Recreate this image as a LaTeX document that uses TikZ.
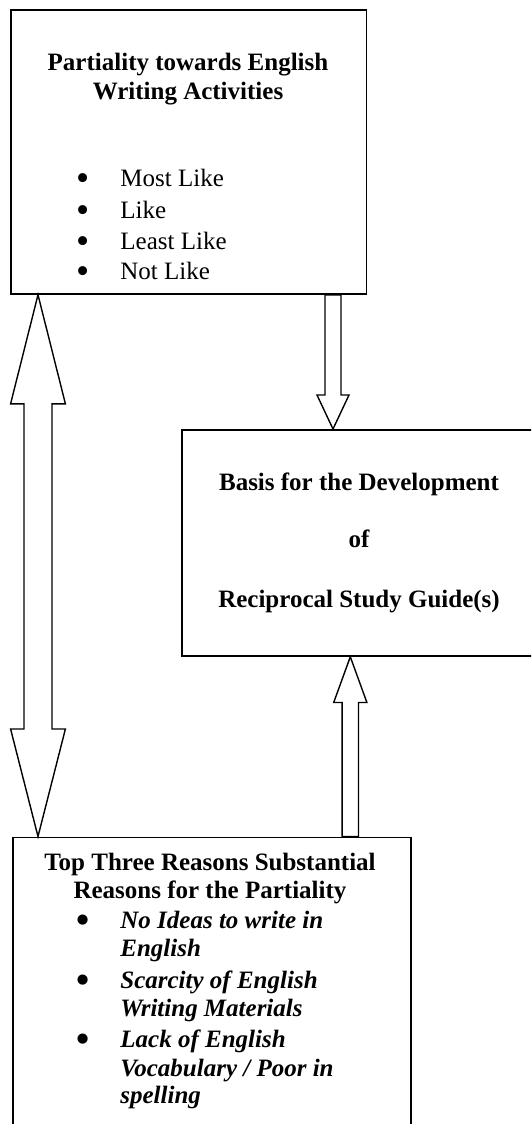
\documentclass[tikz,border=0pt]{standalone}
\usepackage{fontspec}
\setmainfont{Liberation Serif}
\usepackage{tikz}
\usetikzlibrary{positioning,calc}

\tikzset{
    box/.style={draw, line width=0.9pt, anchor=north west, inner sep=0pt},
    blockarrow/.style={draw, line width=0.7pt},
    txt/.style={inner sep=0pt, font=\fontsize{12.5}{15}\selectfont},
    title/.style={txt, font=\fontsize{12.5}{15}\selectfont\bfseries, anchor=base},
    item/.style={txt, anchor=base west},
    reason/.style={txt, font=\fontsize{12.5}{15}\selectfont\bfseries, anchor=base west},
}
\newcommand{\bul}{\makebox[22.2pt][l]{\smash{\raisebox{-2pt}{\scalebox{1.5}{\textbullet}}}}}

\begin{document}
\begin{tikzpicture}[x=0.5pt,y=0.5pt]
    \useasboundingbox (0,0) rectangle (531,-1124);
    \clip (0,0) rectangle (531,-1124);

    % boxes
    \node[box, minimum width=177.75pt, minimum height=142pt] (top) at (10,-9) {};
    \node[box, minimum width=178pt, minimum height=113pt] (mid) at (181,-429) {};
    \node[box, minimum width=199pt, minimum height=160pt] (bot) at (12,-836.5) {};

    % partiality
    \node[title] (toptitle1) at (188,-70.7) {Partiality towards English};
    \node[title] (toptitle2) at (188,-99) {Writing Activities};
    \node[item] (like1) at (75.6,-186.7) {\bul Most Like};
    \node[item] (like2) at (75.6,-218) {\bul Like};
    \node[item] (like3) at (75.6,-249) {\bul Least Like};
    \node[item] (like4) at (75.6,-279) {\bul Not Like};

    % basis
    \node[title] (basis1) at (359,-490) {Basis for the Development};
    \node[title] (basis2) at (359,-547.7) {of};
    \node[title] (basis3) at (359,-607.7) {Reciprocal Study Guide(s)};

    % reasons
    \node[title] (rtitle1) at (210,-870) {Top Three Reasons Substantial};
    \node[title] (rtitle2) at (210,-898.3) {Reasons for the Partiality};
    \node[reason] (r1a) at (75.6,-928) {\bul\textit{No Ideas to write in}};
    \node[reason] (r1b) at (120,-956.7) {\textit{English}};
    \node[reason] (r2a) at (75.6,-988.3) {\bul\textit{Scarcity of English}};
    \node[reason] (r2b) at (120,-1016.7) {\textit{Writing Materials}};
    \node[reason] (r3a) at (75.6,-1047) {\bul\textit{Lack of English}};
    \node[reason] (r3b) at (120,-1076.7) {\textit{Vocabulary / Poor in}};
    \node[reason] (r3c) at (120,-1103) {\textit{spelling}};

    % arrows
    \coordinate (dtail) at ($(top.south west)+(323,0)$);
    \coordinate (dtip) at (dtail |- mid.north);
    \draw[blockarrow] ($(dtail)+(-8,0)$) -- ($(dtip)+(-8,34)$) -- ($(dtip)+(-16,34)$) -- (dtip)
        -- ($(dtip)+(16,34)$) -- ($(dtip)+(8,34)$) -- ($(dtail)+(8,0)$) -- cycle;

    \coordinate (utail) at ($(bot.north west)+(338.3,0)$);
    \coordinate (utip) at (utail |- mid.south);
    \draw[blockarrow] ($(utail)+(-8.2,0)$) -- ($(utip)+(-8.2,-45.7)$) -- ($(utip)+(-16.6,-45.7)$) -- (utip)
        -- ($(utip)+(16.6,-45.7)$) -- ($(utip)+(8.2,-45.7)$) -- ($(utail)+(8.2,0)$) -- cycle;

    \coordinate (ltop) at ($(top.south west)+(28,0)$);
    \coordinate (lbot) at (ltop |- bot.north);
    \draw[blockarrow] (ltop) -- ($(ltop)+(27.4,-109)$) -- ($(ltop)+(14,-109)$)
        -- ($(lbot)+(14,107.5)$) -- ($(lbot)+(27.4,107.5)$) -- (lbot)
        -- ($(lbot)+(-27.4,107.5)$) -- ($(lbot)+(-14,107.5)$)
        -- ($(ltop)+(-14,-109)$) -- ($(ltop)+(-27.4,-109)$) -- cycle;
\end{tikzpicture}
\end{document}
